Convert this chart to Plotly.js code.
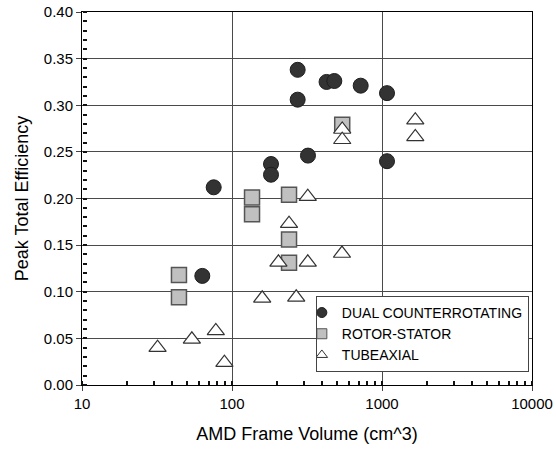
<!DOCTYPE html>
<html>
<head>
<meta charset="utf-8">
<script src="https://cdn.plot.ly/plotly-3.0.1.min.js"></script>
<style>html,body{margin:0;padding:0;background:#fff}#chart{width:556px;height:455px}</style>
</head>
<body>
<div id="chart"></div>
<script>
// Dual counterrotating
const dualX = [75.5, 63.4, 274, 427, 481, 721, 1080, 274, 321, 182, 182, 1080];
const dualY = [0.212, 0.117, 0.338, 0.325, 0.326, 0.321, 0.313, 0.306, 0.246, 0.237, 0.2255, 0.240];
// Rotor-stator
const rsX = [44.3, 44.3, 136, 136, 240, 240, 240, 543];
const rsY = [0.118, 0.094, 0.201, 0.183, 0.204, 0.156, 0.131, 0.279];
// Tubeaxial
const tubeX = [31.9, 54, 78, 89, 159, 268, 204, 320, 240, 320, 541, 543, 543, 1667, 1667];
const tubeY = [0.040, 0.049, 0.058, 0.024, 0.093, 0.094, 0.1316, 0.1316, 0.173, 0.202, 0.141, 0.274, 0.263, 0.284, 0.266];

const seriesNames = ['DUAL COUNTERROTATING', 'ROTOR-STATOR', 'TUBEAXIAL'];
const xTickVals = [10, 100, 1000, 10000];
const xTickText = ['10', '100', '1000', '10000'];
const yTickVals = [0, 0.05, 0.10, 0.15, 0.20, 0.25, 0.30, 0.35, 0.40];
const yTickText = ['0.00', '0.05', '0.10', '0.15', '0.20', '0.25', '0.30', '0.35', '0.40'];

const font = 'Liberation Sans, Arial, sans-serif';

const styles = [
  {symbol: 'circle', color: '#333333', line: {color: '#1e1e1e', width: 1}},
  {symbol: 'square', color: '#c0c0c0', line: {color: '#555', width: 1.5}},
  {symbol: 'triangle-up', color: '#ffffff', line: {color: '#333', width: 1.2}}
];
const sizes = [15, 15, 15];

const data = [[dualX, dualY], [rsX, rsY], [tubeX, tubeY]];
const traces = [];
data.forEach((d, i) => {
  traces.push({x: d[0], y: d[1], name: seriesNames[i], type: 'scatter', mode: 'markers',
    showlegend: false, legendgroup: 'g' + i,
    marker: Object.assign({size: sizes[i]}, styles[i])});
});
// legend-only entries with smaller symbols
seriesNames.forEach((n, i) => {
  traces.push({x: [null], y: [null], name: n, type: 'scatter', mode: 'markers',
    showlegend: true, legendgroup: 'g' + i,
    marker: Object.assign({size: 10}, styles[i], {line: {color: styles[i].line.color, width: 1}})});
});
// empty trace for the overlay axis that carries the y minor ticks
traces.push({x: [null], y: [null], xaxis: 'x', yaxis: 'y2', type: 'scatter', mode: 'markers',
  showlegend: false, hoverinfo: 'skip'});

const layout = {
  width: 556, height: 455,
  margin: {l: 82, r: 24, t: 12, b: 70},
  font: {family: font, color: '#000', size: 15},
  showlegend: true,
  legend: {
    x: 0.993, y: 0.035, xanchor: 'right', yanchor: 'bottom',
    bgcolor: '#fff', bordercolor: '#444', borderwidth: 1,
    font: {family: font, size: 14, color: '#000'},
    traceorder: 'normal', indentation: -15,
    tracegroupgap: 0
  },
  xaxis: {
    type: 'log', range: [1, 4],
    tickvals: xTickVals, ticktext: xTickText,
    showgrid: true, gridcolor: '#4a4a4a',
    showline: true, linecolor: '#000', mirror: true,
    ticks: 'outside', ticklen: 5,
    minor: {dtick: 'D1', ticks: 'inside', ticklen: 4, tickcolor: '#111', tickwidth: 2},
    tickfont: {size: 15, family: font},
    title: {text: 'AMD Frame Volume (cm^3)', font: {size: 18, family: font}, standoff: 16}
  },
  yaxis: {
    range: [0, 0.40], tickvals: yTickVals, ticktext: yTickText,
    showgrid: true, gridcolor: '#4a4a4a',
    showline: true, linecolor: '#000', mirror: true,
    ticks: 'outside', ticklen: 5,
    tickfont: {size: 15, family: font},
    title: {text: 'Peak Total Efficiency', font: {size: 18, family: font}, standoff: 10}
  },
  yaxis2: {
    range: [0, 0.40], overlaying: 'y', anchor: 'free', position: 0, side: 'right',
    tickmode: 'linear', tick0: 0, dtick: 0.01, ticks: 'outside', ticklen: 4,
    tickcolor: '#111', tickwidth: 2,
    showticklabels: false, showgrid: false, showline: false, zeroline: false
  }
};

Plotly.newPlot('chart', traces, layout, {displayModeBar: false, staticPlot: true});
</script>
</body>
</html>
